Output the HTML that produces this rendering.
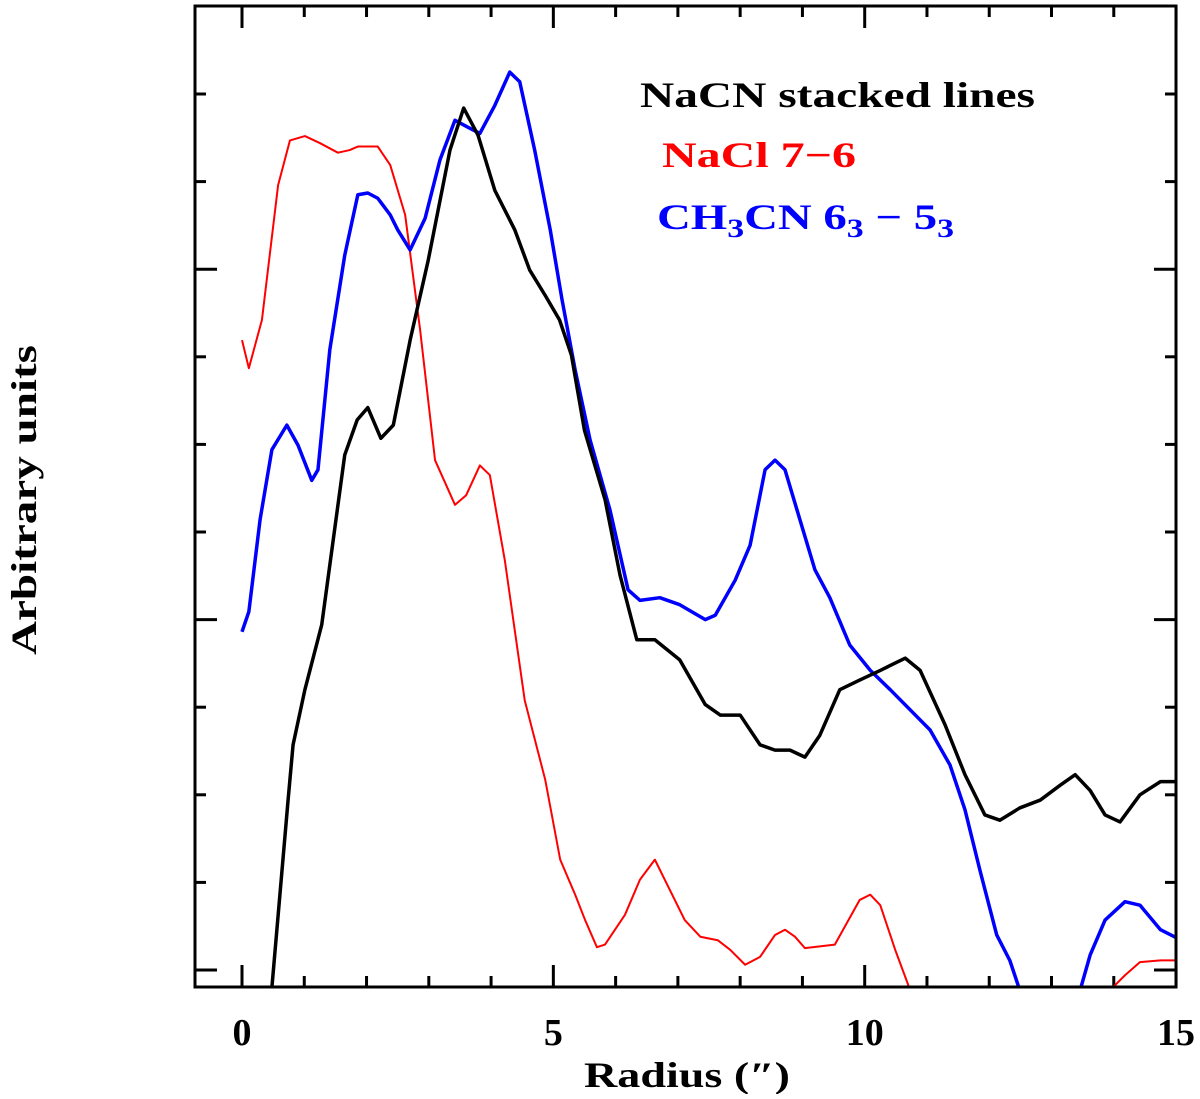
<!DOCTYPE html>
<html><head><meta charset="utf-8"><style>
body{margin:0;background:#fff}
svg text{font-family:"Liberation Serif",serif;font-weight:bold}
</style></head><body>
<svg id="chart" width="1200" height="1094" viewBox="0 0 1200 1094" xmlns="http://www.w3.org/2000/svg">
<defs><clipPath id="clip"><rect x="195" y="6" width="981" height="981"/></clipPath></defs>
<g id="ticks"></g>
<g id="series" clip-path="url(#clip)"></g>
<rect x="195" y="6" width="981" height="981" fill="none" stroke="#000" stroke-width="3"/>
<g id="xlabels"></g>
<text x="584" y="1087" font-size="36" textLength="206" lengthAdjust="spacingAndGlyphs">Radius (″)</text>
<text transform="translate(36,655) rotate(-90)" font-size="36" textLength="310" lengthAdjust="spacingAndGlyphs">Arbitrary units</text>
<text x="640" y="107" font-size="36" fill="#000" textLength="395" lengthAdjust="spacingAndGlyphs">NaCN stacked lines</text>
<text x="662" y="167" font-size="36" fill="#ff0000" textLength="194" lengthAdjust="spacingAndGlyphs">NaCl 7−6</text>
<text transform="translate(657,229) scale(1.3,1)" x="0" y="0" font-size="36" fill="#0000ff">CH<tspan font-size="26" dy="8">3</tspan><tspan dy="-8">CN 6</tspan><tspan font-size="26" dy="8">3</tspan><tspan dy="-8"> − 5</tspan><tspan font-size="26" dy="8">3</tspan></text>
</svg>
<script>
const xTicks=[0,5,10,15];
const blackX=[0.48,0.74,0.82,1.01,1.28,1.65,1.85,2.02,2.23,2.43,2.70,2.99,3.34,3.56,3.79,4.06,4.38,4.62,4.87,5.1,5.29,5.5,5.83,6.07,6.34,6.63,7.03,7.44,7.68,8.0,8.32,8.56,8.8,9.04,9.28,9.6,9.92,10.25,10.65,10.89,11.29,11.61,11.93,12.17,12.49,12.82,13.14,13.38,13.62,13.86,14.1,14.42,14.75,15];
const blackY=[-0.2,1.94,2.57,3.2,3.94,5.88,6.28,6.42,6.07,6.22,7.19,8.1,9.36,9.84,9.53,8.9,8.45,7.99,7.7,7.42,7.02,6.16,5.37,4.51,3.77,3.77,3.54,3.03,2.91,2.91,2.57,2.51,2.51,2.43,2.68,3.2,3.31,3.42,3.56,3.42,2.8,2.23,1.77,1.71,1.85,1.94,2.11,2.23,2.05,1.77,1.69,2.0,2.15,2.15];
const redX=[0,0.11,0.32,0.58,0.77,1.01,1.25,1.54,1.73,1.86,2.18,2.38,2.62,2.86,3.1,3.42,3.6,3.82,3.98,4.22,4.54,4.87,5.11,5.35,5.51,5.7,5.83,6.15,6.39,6.63,6.79,7.11,7.36,7.64,7.84,8.08,8.32,8.56,8.72,8.88,9.04,9.52,9.92,10.09,10.25,10.49,10.73,12.3,13.94,14.18,14.42,14.75,15];
const redY=[7.19,6.87,7.42,8.96,9.47,9.52,9.44,9.33,9.36,9.4,9.4,9.19,8.62,7.31,5.82,5.31,5.42,5.76,5.65,4.68,3.08,2.17,1.26,0.86,0.57,0.26,0.29,0.63,1.03,1.26,1.03,0.57,0.38,0.34,0.23,0.06,0.15,0.4,0.46,0.38,0.25,0.29,0.8,0.86,0.74,0.23,-0.23,-2,-0.23,-0.06,0.09,0.11,0.11];
const blueX=[0,0.11,0.29,0.48,0.72,0.9,1.12,1.22,1.41,1.65,1.86,2.02,2.18,2.38,2.5,2.7,2.94,3.18,3.42,3.63,3.82,4.06,4.3,4.46,4.7,4.95,5.14,5.35,5.59,5.91,6.2,6.39,6.71,7.03,7.44,7.6,7.92,8.16,8.4,8.56,8.72,8.96,9.2,9.44,9.76,10.09,10.41,10.73,11.05,11.37,11.61,11.85,12.12,12.33,12.49,13.0,13.46,13.62,13.86,14.18,14.42,14.75,15];
const blueY=[3.86,4.09,5.14,5.94,6.22,5.99,5.59,5.71,7.08,8.16,8.85,8.87,8.81,8.62,8.45,8.22,8.58,9.25,9.7,9.62,9.55,9.87,10.25,10.14,9.36,8.45,7.65,6.85,6.05,5.25,4.34,4.22,4.25,4.17,4.0,4.05,4.45,4.85,5.71,5.82,5.71,5.14,4.57,4.25,3.71,3.42,3.2,2.97,2.74,2.34,1.83,1.14,0.4,0.11,-0.23,-2,-0.23,0.17,0.57,0.78,0.74,0.46,0.37];
const X=v=>242+v*62.27, Y=v=>970-v*87.6;
const NS="http://www.w3.org/2000/svg";
const ticks=document.getElementById('ticks');
function ln(x1,y1,x2,y2){const l=document.createElementNS(NS,'line');l.setAttribute('x1',x1);l.setAttribute('y1',y1);l.setAttribute('x2',x2);l.setAttribute('y2',y2);l.setAttribute('stroke','#000');l.setAttribute('stroke-width','3');


ticks.appendChild(l);}
for(let i=0;i<=15;i++){const L=i%5==0?22:11;ln(X(i),987,X(i),987-L);ln(X(i),6,X(i),6+L);}
for(let i=0;i<=11;i++){const y=Y(i);if(y<8)continue;const L=i%4==0?22:11;ln(195,y,195+L,y);ln(1176,y,1176-L,y);}
const xl=document.getElementById('xlabels');
xTicks.forEach(t=>{const e=document.createElementNS(NS,'text');e.setAttribute('x',X(t));e.setAttribute('y',1045);e.setAttribute('font-size','38');e.setAttribute('text-anchor','middle');e.textContent=t;


xl.appendChild(e);});
const sg=document.getElementById('series');
function draw(xs,ys,color,w,name){const p=document.createElementNS(NS,'polyline');p.setAttribute('points',xs.map((x,i)=>X(x)+','+Y(ys[i])).join(' '));p.setAttribute('fill','none');p.setAttribute('stroke',color);p.setAttribute('stroke-width',w);p.setAttribute('stroke-linejoin','round');


sg.appendChild(p);}
draw(redX,redY,'#ff0000',2,'nacl-line');
draw(blueX,blueY,'#0000ff',3.5,'ch3cn-line');
draw(blackX,blackY,'#000',3.5,'nacn-line');
</script>
</body></html>
